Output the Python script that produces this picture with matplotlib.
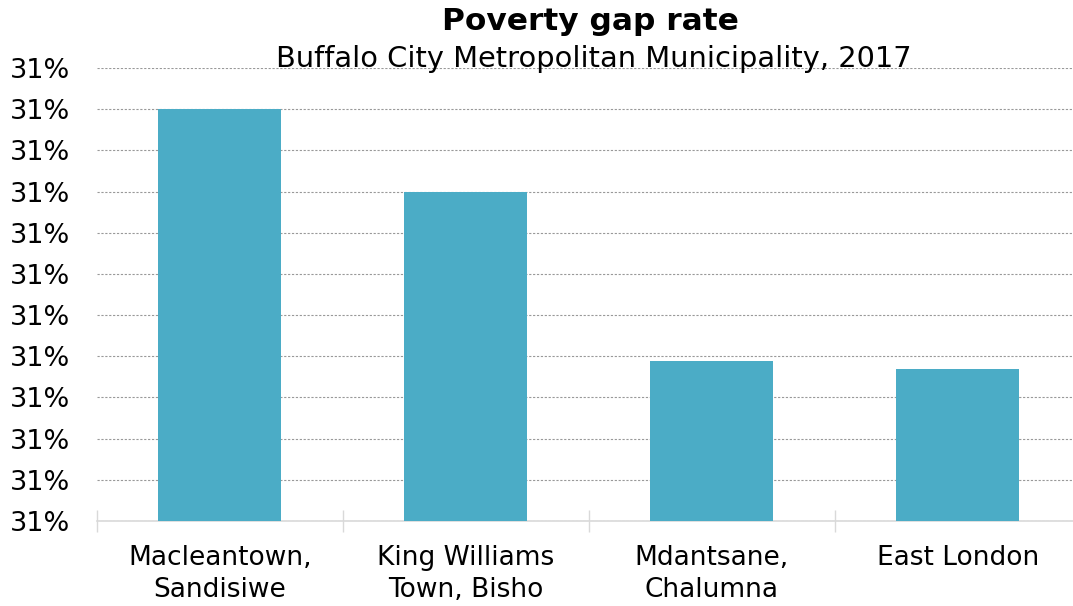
"""Poverty gap rate by main place, Buffalo City Metropolitan Municipality, 2017."""
import matplotlib

matplotlib.use("Agg")
import matplotlib.pyplot as plt
from matplotlib.ticker import FuncFormatter, MultipleLocator

places = ["Macleantown,\nSandisiwe", "King Williams\nTown, Bisho",
          "Mdantsane,\nChalumna", "East London"]
gap_rate = [0.31100, 0.31080, 0.310388, 0.310369]  # fraction of poverty line

y_min, y_max, y_step = 0.3100, 0.3111, 0.0001
bar_colour = "#4BACC6"

fig = plt.figure(figsize=(10.73, 6.06), dpi=100)
ax = fig.add_axes([0.0904, 0.1403, 0.917, 0.7475])

x = range(len(places))
ax.bar(x, gap_rate, width=0.5, color=bar_colour, zorder=3)

ax.set_ylim(y_min, y_max)
ax.set_xlim(-0.5, len(places) - 0.5)
ax.yaxis.set_major_locator(MultipleLocator(y_step))
ax.yaxis.set_major_formatter(FuncFormatter(lambda v, _: f"{v * 100:.0f}%"))
ax.grid(axis="y", ls=(0, (2, 1.5)), color="#999999", lw=0.8, zorder=0)
ax.tick_params(axis="y", length=0, labelsize=19.5, pad=19)

ax.set_xticks(list(x))
ax.set_xticklabels(places, fontsize=19, linespacing=1.28)
ax.tick_params(axis="x", which="major", length=0, pad=17.5)
ax.set_xticks([i - 0.5 for i in range(len(places) + 1)], minor=True)
ax.tick_params(axis="x", which="minor", direction="inout", length=16,
               color="#d9d9d9", width=1)

for side in ("top", "right", "left"):
    ax.spines[side].set_visible(False)
ax.spines["bottom"].set_color("#d9d9d9")
ax.spines["bottom"].set_linewidth(1.2)

fig.text(0.550, 0.965, "Poverty gap rate", ha="center", va="center",
         fontsize=22.5, fontweight="bold")
fig.text(0.553, 0.903, "Buffalo City Metropolitan Municipality, 2017",
         ha="center", va="center", fontsize=20.8)

fig.savefig("out.png", dpi=100)
